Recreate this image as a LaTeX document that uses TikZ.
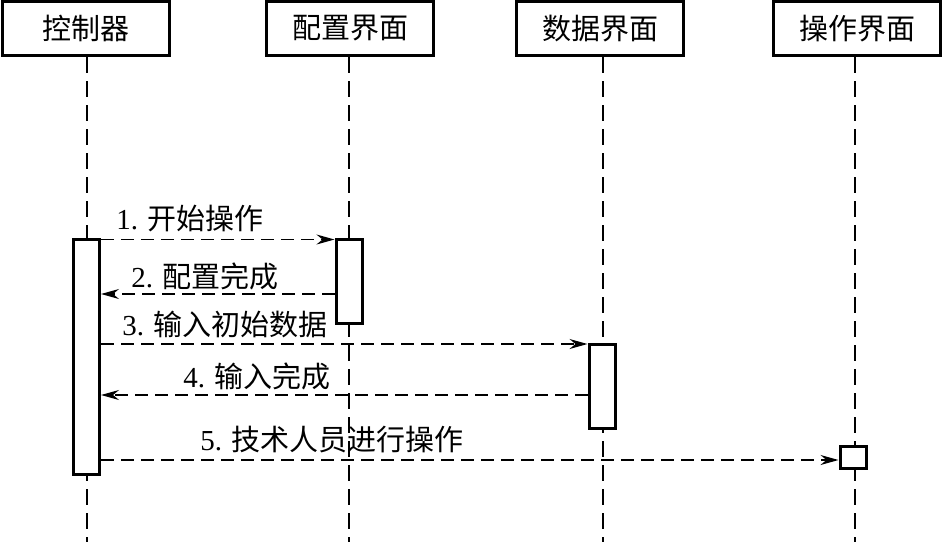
\documentclass[tikz,border=0pt]{standalone}
\usepackage{fontspec}
\setmainfont{Liberation Serif}
\newfontfamily\cjk{Noto Sans CJK SC}
\usetikzlibrary{arrows.meta}
\begin{document}
\begin{tikzpicture}[x=1pt,y=-1pt,
  head/.style={draw, line width=3pt, minimum width=167pt, minimum height=54pt, inner sep=0pt, font=\fontsize{29}{31}\selectfont\cjk},
  life/.style={line width=1.2pt, dash pattern=on 16pt off 8pt},
  act/.style={draw, fill=white, line width=3pt, minimum width=26pt, inner sep=0pt},
  msg/.style={line width=1.4pt, dash pattern=on 13pt off 7pt, -{Stealth[length=18pt,width=10pt,inset=6pt]}},
  lbl/.style={font=\fontsize{29}{31}\selectfont, inner sep=0pt}]
\useasboundingbox[fill=white] (0,0) rectangle (943,542);

% headers
\node[head] (ctl) at (86,28.5) {控制器};
\node[head] (cfg) at (350,28.5) {配置界面};
\node[head] (dat) at (600,28.5) {数据界面};
\node[head] (opr) at (857,28.5) {操作界面};

% lifelines
\coordinate (ctlend) at (87,542);
\coordinate (cfgend) at (349,542);
\coordinate (datend) at (603,542);
\coordinate (oprend) at (855,542);
\draw[life] (ctl.south -| ctlend) -- (ctlend);
\draw[life] (cfg.south -| cfgend) -- (cfgend);
\draw[life] (dat.south -| datend) -- (datend);
\draw[life] (opr.south -| oprend) -- (oprend);

% activation boxes
\node[act, minimum height=235pt] (a1) at (86.5,357) {};
\node[act, minimum height=84pt] (b1) at (349,281.5) {};
\node[act, minimum height=84pt] (c1) at (602,386.5) {};
\node[act, minimum height=22pt] (d1) at (853,457.5) {};

% messages
\coordinate (m1) at (0,239.5);
\coordinate (m2) at (0,294);
\coordinate (m3) at (0,344);
\coordinate (m4) at (0,395);
\coordinate (m5) at (0,460);
\draw[msg] (a1.east |- m1) -- (b1.west |- m1);
\draw[msg] (b1.west |- m2) -- (a1.east |- m2);
\draw[msg] (a1.east |- m3) -- (c1.west |- m3);
\draw[msg] (c1.west |- m4) -- (a1.east |- m4);
\draw[msg] (a1.east |- m5) -- (d1.west |- m5);

% labels
\node[lbl] (l1) at (190,219) {1. {\cjk 开始操作}};
\node[lbl] (l2) at (205,276) {2. {\cjk 配置完成}};
\node[lbl] (l3) at (225,324) {3. {\cjk 输入初始数据}};
\node[lbl] (l4) at (257,376) {4. {\cjk 输入完成}};
\node[lbl] (l5) at (332,440) {5. {\cjk 技术人员进行操作}};
\end{tikzpicture}
\end{document}
